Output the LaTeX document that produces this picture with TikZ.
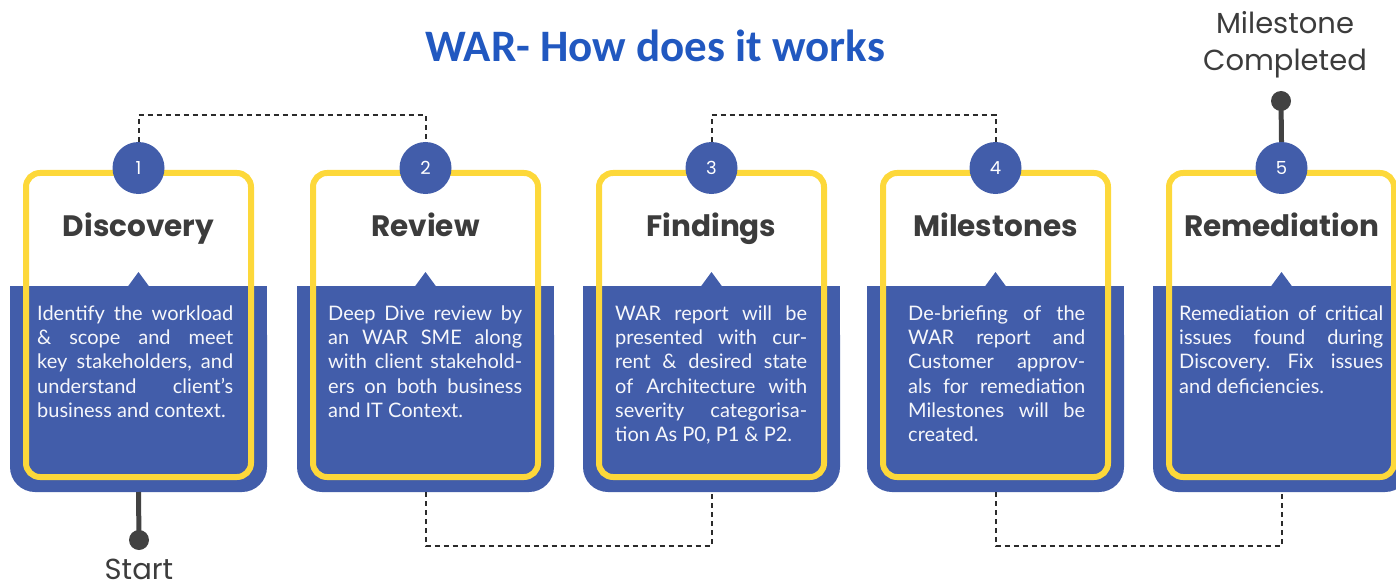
\documentclass[tikz,border=0pt]{standalone}
\usepackage{fontspec}
\setmainfont{Poppins}
\newfontfamily\bodyfont{Lato}
\newfontfamily\titlefont{Carlito}
\frenchspacing
\definecolor{cardblue}{HTML}{425DAA}
\definecolor{frameyellow}{HTML}{FDD83A}
\definecolor{headgray}{HTML}{3C3C3C}
\definecolor{wartitle}{HTML}{2158C0}
\definecolor{pingray}{HTML}{424242}
\definecolor{dashgray}{HTML}{2B2B2B}
\tikzset{
 frame/.style={draw=frameyellow, line width=6, rounded corners=14, inner sep=0},
 numc/.style={circle, fill=cardblue, minimum size=52, inner sep=0, text=white, font=\fontsize{18}{20}\selectfont},
 headt/.style={anchor=base, inner sep=0, text=headgray, font=\bfseries\fontsize{29.5}{34}\selectfont},
 bodyt/.style={anchor=north west, inner sep=0, text=white!95!cardblue, font=\bodyfont\fontsize{20}{24.3}\selectfont},
 dashc/.style={draw=dashgray, line width=2, dash pattern=on 5 off 4},
 pinline/.style={draw=pingray, line width=5},
 pindot/.style={circle, fill=pingray, minimum size=20, inner sep=0},
 labelt/.style={text=headgray, inner sep=0, font=\fontsize{29}{37}\selectfont},
}
\newdimen\cardw
\newcommand\jline[1]{\hbox to\cardw{\strut #1}}
\newcommand\lastline[1]{\hbox{\strut #1}}
\newcommand\mycard[6]{%
 \pgfmathsetmacro\cL{#1}%
 \pgfmathsetmacro\cR{#1+257}%
 \pgfmathsetmacro\cC{#1+128.5}%
 \pgfmathsetmacro\cT{#1+#4}%
 \global\cardw=#5pt\relax
 \fill[cardblue] (\cL,286) rectangle (\cR,340);
 \fill[cardblue, rounded corners=25] (\cL,310) rectangle (\cR,492);
 \fill[cardblue] (\cC-11,287) -- (\cC,272) -- (\cC+11,287) -- cycle;
 \coordinate (b#2) at (\cC,492);
 \node[frame, minimum width=225, minimum height=304] (card#2) at (\cC,325) {};
 \node[numc] (c#2) at (\cC,168) {#2};
 \node[headt] (t#2) at (\cC,236) {#3};
 \node[bodyt] (d#2) at (\cT,303) {\vbox{#6}};
}
\begin{document}
\begin{tikzpicture}[x=1pt,y=-1pt]
\path[use as bounding box] (0,0) rectangle (1396,588);
\clip (0,0) rectangle (1396,588);
\mycard{10}{1}{Discovery}{27}{196}{\jline{Identify the workload}\jline{\& scope and meet}\jline{key stakeholders, and}\jline{understand client’s}\lastline{business and context.}}
\mycard{297}{2}{Review}{31}{194}{\jline{Deep Dive review by}\jline{an WAR SME along}\jline{with client stakehold-}\jline{ers on both business}\lastline{and IT Context.}}
\mycard{583}{3}{Findings}{32}{192}{\jline{WAR report will be}\jline{presented with cur-}\jline{rent \& desired state}\jline{of Architecture with}\jline{severity categorisa-}\lastline{tion As P0, P1 \& P2.}}
\mycard{867}{4}{Milestones}{41}{177}{\jline{De-briefing of the}\jline{WAR report and}\jline{Customer approv-}\jline{als for remediation}\jline{Milestones will be}\lastline{created.}}
\mycard{1153}{5}{Remediation}{26}{204}{\jline{Remediation of critical}\jline{issues found during}\jline{Discovery. Fix issues}\lastline{and deficiencies.}}
\node[font=\titlefont\bfseries\fontsize{45}{52}\selectfont, text=wartitle, anchor=base, inner sep=0] (title) at (655,62) {WAR- How does it works};
\node[labelt, align=center, anchor=north] (ms) at (1285,11) {Milestone\\Completed};
\coordinate (mpt) at (1281,101);
\draw[pinline] (mpt) -- (c5.north);
\node[pindot] (mdot) at (mpt) {};
\coordinate (spt) at (139,540);
\draw[pinline] (b1) -- (spt);
\node[pindot] (sdot) at (spt) {};
\node[labelt, anchor=base] (start) at (139,579) {Start};
\coordinate (ytop) at (0,115);
\coordinate (ybot) at (0,546);
\draw[dashc] (c1.north) -- (c1.north |- ytop) -- (c2.north |- ytop) -- (c2.north);
\draw[dashc] (c3.north) -- (c3.north |- ytop) -- (c4.north |- ytop) -- (c4.north);
\draw[dashc] (b2) -- (b2 |- ybot) -- (b3 |- ybot) -- (b3);
\draw[dashc] (b4) -- (b4 |- ybot) -- (b5 |- ybot) -- (b5);
\end{tikzpicture}
\end{document}
